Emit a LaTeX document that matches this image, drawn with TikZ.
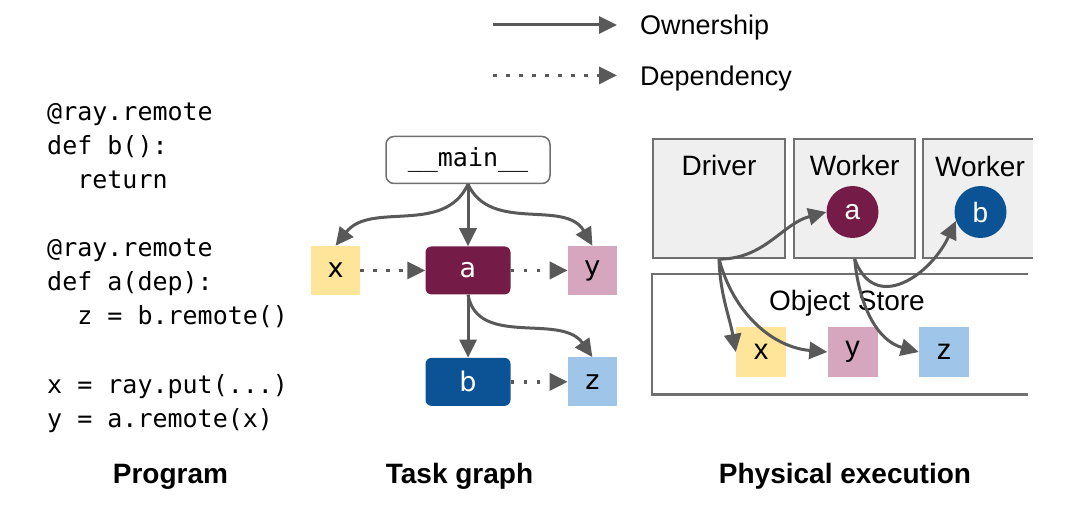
\documentclass[tikz,border=0pt]{standalone}
\usepackage{fontspec}
\setmainfont{Liberation Sans}
\setmonofont{DejaVu Sans Mono}
\newfontfamily\dejavu{DejaVu Sans}
\usetikzlibrary{positioning, arrows.meta, calc}
\definecolor{arrowgray}{HTML}{595959}
\definecolor{edgegray}{HTML}{707070}
\definecolor{procgray}{HTML}{EFEFEF}
\definecolor{objyellow}{HTML}{FFE599}
\definecolor{objpink}{HTML}{D5A6BD}
\definecolor{objblue}{HTML}{9FC5E8}
\definecolor{taskred}{HTML}{741B47}
\definecolor{taskblue}{HTML}{0B5394}

\begin{document}
\begin{tikzpicture}[
    x=1pt, y=1pt,
    node distance=60pt,
    own/.style={-{Triangle[length=18pt,width=17pt]}, line width=3pt, draw=arrowgray},
    dep/.style={own, line width=3.5pt, dash pattern=on 3.5pt off 9.5pt},
    legendtxt/.style={anchor=west, inner sep=0pt, text height=20pt, text depth=0pt, font=\fontsize{27}{32}\selectfont},
    code/.style={anchor=base west, inner sep=0pt, font=\fontsize{25}{30}\ttfamily},
    caption/.style={anchor=base, inner sep=0pt, font=\fontsize{28}{34}\selectfont\bfseries},
    mainbox/.style={draw=edgegray, line width=1.5pt, fill=white, rounded corners=8pt, minimum width=164pt, minimum height=47pt, font=\fontsize{25}{30}\ttfamily},
    obj/.style={fill=#1, minimum size=49pt, inner sep=0pt, font=\fontsize{27}{32}\dejavu},
    task/.style={fill=#1, rounded corners=6pt, minimum width=85pt, minimum height=48pt, inner sep=0pt, text=white, font=\fontsize{27}{32}\dejavu},
    proc/.style={draw=edgegray, line width=2.2pt, fill=procgray, inner sep=0pt},
    boxtitle/.style={anchor=base, inner sep=0pt, font=\fontsize{28}{34}\selectfont},
    ptask/.style={circle, fill=#1, minimum size=52pt, inner sep=0pt, text=white, font=\fontsize{28}{34}\selectfont},
    pobj/.style={fill=#1, minimum size=50pt, inner sep=0pt, font=\fontsize{29}{34}\selectfont}
]
\useasboundingbox (0,0) rectangle (1092,-510);

% Legend
\coordinate (lown0) at (493,-25);
\node[legendtxt] (lown) at (640,-25) {Ownership};
\node[legendtxt, below=30pt of lown.south west, anchor=north west] (ldep) {Dependency};
\coordinate (ldep0) at (lown0 |- ldep.west);
\draw[own, shorten >=23pt] (lown0) -- (lown.west);
\draw[dep, shorten >=23pt] (ldep0) -- (ldep.west);

% Program
\foreach \yy/\src in {121/{@ray.remote}, 155/{def b():}, 189/{\ \ return},
    257/{@ray.remote}, 291/{def a(dep):}, 325/{\ \ z = b.remote()},
    393/{x = ray.put(...)}, 427/{y = a.remote(x)}}
  \node[code, name=code-\yy] at (47,-\yy) {\src};

% Task graph
\node[mainbox] (main) at (468,-160) {\_\_main\_\_};
\node[task=taskred, below=62pt of main] (ta) {a};
\node[obj=objyellow, left=65pt of ta] (tx) {x};
\node[obj=objpink, right=57pt of ta] (ty) {y};
\node[task=taskblue, below=63pt of ta] (tb) {b};
\node[obj=objblue, right=57pt of tb] (tz) {z};

\draw[own] (main.south) to[out=-115,in=52] (tx.north);
\draw[own] (main.south) -- (ta.north);
\draw[own] (main.south) to[out=-65,in=120] (ty.north);
\draw[own] (ta.south) -- (tb.north);
\draw[own] (ta.south) to[out=-80,in=125] (tz.north);
\draw[dep] (tx.east) -- (ta.west);
\draw[dep] (ta.east) -- (ty.west);
\draw[dep] (tb.east) -- (tz.west);

% Physical execution
\node[proc, minimum width=132pt, minimum height=119pt] (driver) at (719,-198.5) {};
\node[proc, minimum width=121pt, minimum height=119pt, right=7pt of driver] (worker) {};
\node[fill=procgray, inner sep=0pt, minimum width=109pt, minimum height=119pt, right=7pt of worker] (worker2) {};
\draw[edgegray, line width=2.2pt] (worker2.north east) -- (worker2.north west) -- (worker2.south west) -- (worker2.south east);
\node[fill=white, inner sep=0pt, minimum width=376pt, minimum height=120pt, below=15pt of driver.south west, anchor=north west] (store) {};
\draw[edgegray, line width=2.2pt] (store.north east) -- (store.north west) -- (store.south west) -- (store.south east);

\node[boxtitle] (tdriver) at ($(driver.north)+(0,-38)$) {Driver};
\node[boxtitle] (tworker) at ($(worker.north)+(0,-38)$) {Worker};
\node[boxtitle] (tworker2) at (980,-177) {Worker};
\node[boxtitle] (tstore) at (847,-311) {Object Store};

\node[ptask=taskred] (pa) at (852.5,-212) {a};
\node[ptask=taskblue] (pb) at (980.5,-212) {b};
\node[pobj=objyellow] (px) at (761,-352) {x};
\node[pobj=objpink] (py) at (852.5,-352) {y};
\node[pobj=objblue] (pz) at (944,-352) {z};

\draw[own] (driver.south) to[out=0,in=195] (pa.west);
\draw[own] (driver.south) to[out=-88,in=100] (px.west);
\draw[own] (driver.south) to[out=-75,in=175] (py.west);
\draw[own] (worker.south) to[out=-85,in=165] (pz.west);
\draw[own] (worker.south) to[out=-70,in=-115,looseness=1.4] (pb.200);

% Captions
\node[caption] (cprog) at (170.5,-483) {Program};
\node[caption] (ctask) at (459.5,-483) {Task graph};
\node[caption] (cphys) at (845,-483) {Physical execution};

\end{tikzpicture}
\end{document}
